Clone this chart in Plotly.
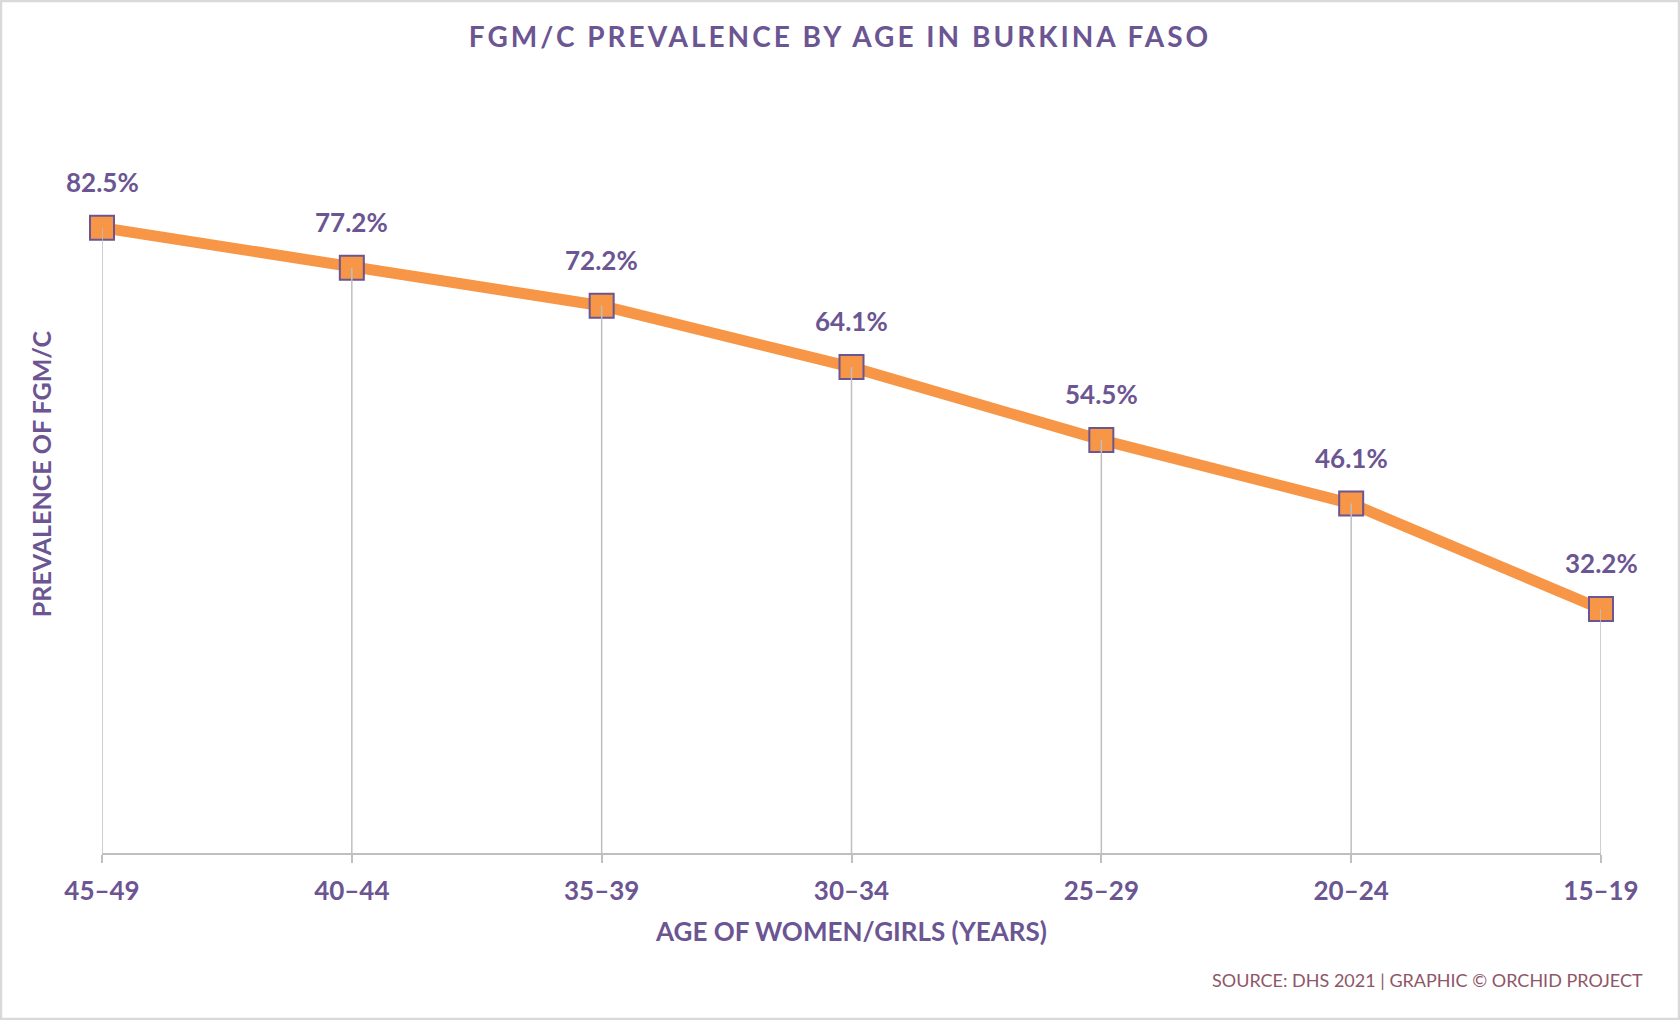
import plotly.graph_objects as go

# ---- data ----
age_groups = ["45–49", "40–44", "35–39", "30–34", "25–29", "20–24", "15–19"]
prevalence = [82.5, 77.2, 72.2, 64.1, 54.5, 46.1, 32.2]
value_labels = ["82.5%", "77.2%", "72.2%", "64.1%", "54.5%", "46.1%", "32.2%"]

title_text = "FGM/C PREVALENCE BY AGE IN BURKINA FASO"
x_title = "AGE OF WOMEN/GIRLS (YEARS)"
y_title = "PREVALENCE OF FGM/C"
source_text = "SOURCE: DHS 2021 | GRAPHIC © ORCHID PROJECT"

# ---- style ----
W, H = 1680, 1020
ML, MR, MT, MB = 102, 79, 95, 167
PW, PH = W - ML - MR, H - MT - MB
PURPLE = "#6B5592"
ORANGE = "#F79646"
GRAY = "#BFBFBF"
FONT = "Lato"

fig = go.Figure()

fig.add_trace(go.Scatter(
    x=age_groups, y=prevalence, mode="lines+markers",
    line=dict(color=ORANGE, width=11),
    marker=dict(symbol="square", size=24, color=ORANGE,
                line=dict(color=PURPLE, width=2)),
    cliponaxis=False, showlegend=False, hoverinfo="skip",
))

# drop lines from each point to the axis
fig.add_trace(go.Scatter(
    x=age_groups, y=prevalence, mode="markers",
    marker=dict(size=1, opacity=0),
    error_y=dict(type="data", symmetric=False,
                 array=[0] * len(prevalence), arrayminus=prevalence,
                 color=GRAY, thickness=1.5, width=0),
    cliponaxis=False, showlegend=False, hoverinfo="skip",
))

for xv, yv, lab in zip(age_groups, prevalence, value_labels):
    fig.add_annotation(x=xv, y=yv, text=lab, showarrow=False,
                       yshift=46, font=dict(family=FONT, size=26, color=PURPLE,
                                            weight="bold"))

fig.add_annotation(xref="paper", yref="paper",
                   x=(1645 - ML) / PW, y=(H - MB - 980) / PH,
                   xanchor="right", yanchor="middle", showarrow=False,
                   text=source_text,
                   font=dict(family=FONT, size=18, color="#8E5668"))

# outer border
fig.add_shape(type="rect", xref="paper", yref="paper",
              x0=(1 - ML) / PW, x1=(W - 1 - ML) / PW,
              y0=-(MB - 1) / PH, y1=1 + (MT - 1) / PH,
              line=dict(color="#D9D9D9", width=2.5), layer="below")

fig.update_layout(
    width=W, height=H,
    margin=dict(l=ML, r=MR, t=MT, b=MB, autoexpand=False),
    paper_bgcolor="white", plot_bgcolor="white",
    font=dict(family=FONT, color=PURPLE),
    title=dict(text=title_text, x=0.5, xref="container", xanchor="center",
               y=1 - 37 / H, yref="container", yanchor="middle",
               font=dict(family=FONT, size=28, color=PURPLE, weight="bold")),
    xaxis=dict(type="category", range=[0, len(age_groups) - 1],
               showline=True, linecolor=GRAY, linewidth=2,
               ticks="outside", ticklen=8, tickcolor=GRAY, tickwidth=2,
               showgrid=False, zeroline=False,
               tickfont=dict(family=FONT, size=26, color=PURPLE, weight="bold"),
               ticklabelstandoff=6,
               title=dict(text=x_title, standoff=18,
                          font=dict(family=FONT, size=26, color=PURPLE, weight="bold")),
               automargin=False),
    yaxis=dict(range=[0, 100], showline=False, showgrid=False, zeroline=False,
               showticklabels=False, ticks="",
               title=dict(text=y_title, standoff=42,
                          font=dict(family=FONT, size=25, color=PURPLE, weight="bold")),
               automargin=False),
)

post = """
document.body.style.margin = '0';
document.body.style.padding = '0';
var t = document.querySelector('.gtitle');
if (t) { t.style.letterSpacing = '3px'; }
"""
fig.write_html("out.html", post_script=post, config={"displayModeBar": False})
